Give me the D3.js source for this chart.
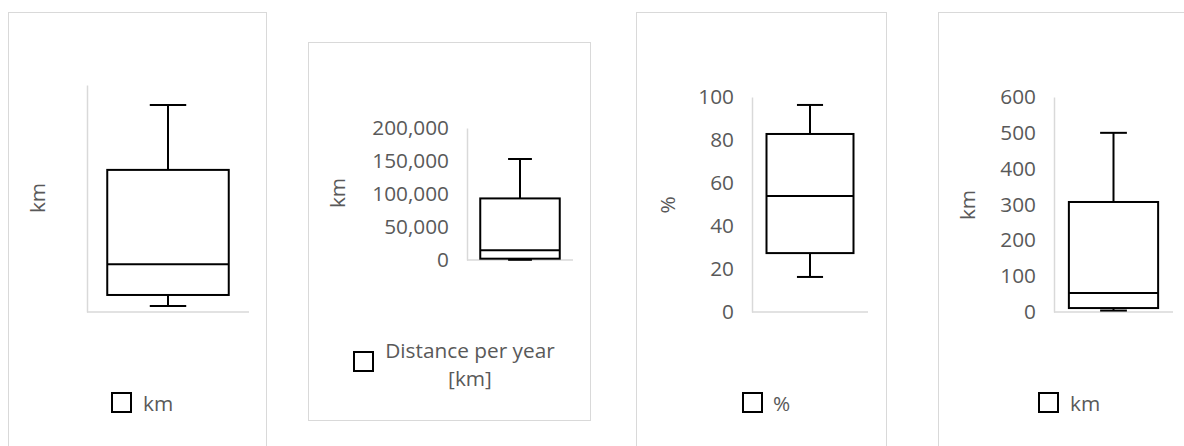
<!DOCTYPE html>
<html>
<head>
<meta charset="utf-8">
<script src="https://cdn.jsdelivr.net/npm/d3@7"></script>
<style>
  html, body { margin: 0; padding: 0; background: #fff; }
  svg { display: block; }
  text { font-family: "Open Sans", sans-serif; fill: #595959; }
</style>
</head>
<body>
<svg id="chart" width="1184" height="446"></svg>
<script>
// ---- data ----
const seriesNames = ["km", "Distance per year [km]", "%", "km"];
const axisTitles = ["km", "km", "%", "km"];
const yMax = [100, 200000, 100, 600];
const whiskerMin = [2.6, 300, 16.3, 4];
const q1 = [7.5, 2000, 27.4, 11];
const median = [21, 14700, 54, 53];
const q3 = [62.6, 93300, 82.8, 307];
const whiskerMax = [91.2, 153000, 96.3, 500];
const tickValues = [
  [],
  [0, 50000, 100000, 150000, 200000],
  [0, 20, 40, 60, 80, 100],
  [0, 100, 200, 300, 400, 500, 600]
];
const showTickLabels = [false, true, true, true];

// ---- layout ----
const FS = "20.8px";
const frames = [
  {x: 8.5, y: 12.5, w: 258, h: 460},
  {x: 308.5, y: 42.5, w: 282, h: 378},
  {x: 636.5, y: 12.5, w: 250, h: 460},
  {x: 938.5, y: 12.5, w: 300, h: 460}
];
const plots = [
  {x0: 87, x1: 249, yTop: 85, yBot: 312, titleX: 37, titleY: 198},
  {x0: 467, x1: 573, yTop: 128, yBot: 260, titleX: 337, titleY: 193},
  {x0: 752, x1: 868, yTop: 97, yBot: 312, titleX: 667, titleY: 205},
  {x0: 1054, x1: 1173, yTop: 97, yBot: 312, titleX: 967, titleY: 205}
];
const legends = [
  {sx: 112, sy: 393, tx: 143, ty: 403},
  {sx: 354, sy: 352, tx: 470, ty: 350, lines: ["Distance per year", "[km]"]},
  {sx: 743, sy: 393, tx: 773, ty: 403},
  {sx: 1039, sy: 393, tx: 1070, ty: 403}
];

const svg = d3.select("#chart");
const fmt = d3.format(",");

seriesNames.forEach((name, i) => {
  const f = frames[i], p = plots[i], lg = legends[i];
  const g = svg.append("g");

  // frame
  g.append("rect")
    .attr("x", f.x).attr("y", f.y).attr("width", f.w).attr("height", f.h)
    .attr("fill", "#fff").attr("stroke", "#d9d9d9").attr("stroke-width", 1);

  const y = d3.scaleLinear().domain([0, yMax[i]]).range([p.yBot, p.yTop]);
  const x = d3.scaleBand().domain([name]).range([p.x0, p.x1])
    .paddingInner(0).paddingOuter(1 / 6);

  // y axis
  const axis = d3.axisLeft(y)
    .tickValues(tickValues[i])
    .tickSize(0)
    .tickPadding(18)
    .tickFormat(d => fmt(d));
  const ag = g.append("g").attr("transform", `translate(${p.x0},0)`).call(axis);
  ag.select(".domain").attr("stroke", "#d9d9d9").attr("stroke-width", 1.5);
  ag.selectAll(".tick text")
    .style("font-size", FS)
    .attr("fill", "#595959")
    .style("display", showTickLabels[i] ? null : "none");

  // baseline (category axis)
  g.append("line")
    .attr("x1", p.x0).attr("x2", p.x1)
    .attr("y1", y(0)).attr("y2", y(0))
    .attr("stroke", "#d9d9d9").attr("stroke-width", 1.5);

  // axis title
  g.append("text")
    .attr("transform", `translate(${p.titleX},${p.titleY}) rotate(-90)`)
    .attr("text-anchor", "middle").attr("dominant-baseline", "central")
    .style("font-size", FS)
    .text(axisTitles[i]);

  // box plot
  const bx = x(name), bw = x.bandwidth(), cx = bx + bw / 2, capW = bw * 0.3;
  const line = (x1, y1, x2, y2) => {
    g.append("line").attr("x1", x1).attr("y1", y1).attr("x2", x2).attr("y2", y2)
      .attr("stroke", "#000").attr("stroke-width", 2);
  };
  // whiskers
  line(cx, y(q3[i]), cx, y(whiskerMax[i]));
  line(cx, y(q1[i]), cx, y(whiskerMin[i]));
  line(cx - capW / 2, y(whiskerMax[i]), cx + capW / 2, y(whiskerMax[i]));
  line(cx - capW / 2, y(whiskerMin[i]), cx + capW / 2, y(whiskerMin[i]));
  // box
  g.append("rect")
    .attr("x", bx).attr("y", y(q3[i]))
    .attr("width", bw).attr("height", y(q1[i]) - y(q3[i]))
    .attr("fill", "#fff").attr("stroke", "#000").attr("stroke-width", 2);
  line(bx, y(median[i]), bx + bw, y(median[i]));

  // legend
  g.append("rect")
    .attr("x", lg.sx).attr("y", lg.sy).attr("width", 19).attr("height", 19)
    .attr("fill", "#fff").attr("stroke", "#000").attr("stroke-width", 2);
  if (lg.lines) {
    const t = g.append("text").attr("text-anchor", "middle").style("font-size", FS);
    lg.lines.forEach((s, k) => {
      t.append("tspan").attr("x", lg.tx).attr("y", lg.ty + k * 28)
        .attr("dominant-baseline", "central").text(s);
    });
  } else {
    g.append("text")
      .attr("x", lg.tx).attr("y", lg.ty)
      .attr("dominant-baseline", "central")
      .style("font-size", FS)
      .text(name);
  }
});
</script>
</body>
</html>
